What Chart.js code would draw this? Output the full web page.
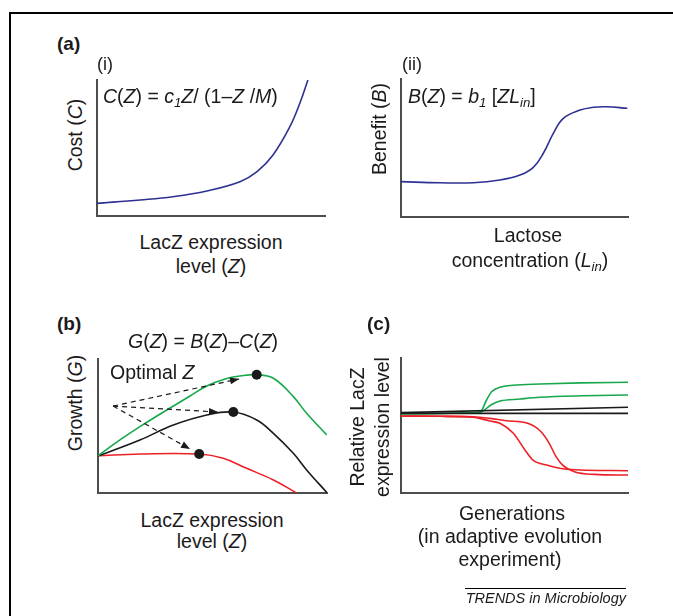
<!DOCTYPE html>
<html>
<head>
<meta charset="utf-8">
<script src="https://cdn.jsdelivr.net/npm/chart.js@4.4.1/dist/chart.umd.min.js"></script>
<style>
html, body { margin: 0; padding: 0; background: #fff; }
body { width: 673px; height: 616px; position: relative; overflow: hidden;
  font-family: "Liberation Sans", Arial, Helvetica, sans-serif; color: #1c1a1b; }
.frame { position: absolute; left: 9px; top: 12px; width: 700px; height: 700px;
  border-left: 2px solid #000; border-top: 2px solid #000; }
canvas { position: absolute; }
.t { position: absolute; white-space: nowrap; font-size: 19.5px; line-height: 19.5px; }
.c { transform: translateX(-50%); }
.rot { transform: translate(-50%, -50%) rotate(-90deg); text-align: center; }
.lab { font-weight: bold; font-size: 19px; line-height: 19px; }
.sm { font-size: 18px; line-height: 18px; }
sub { font-size: 0.68em; vertical-align: -0.3em; line-height: 0; }
.trends { font-style: italic; font-size: 14.5px; line-height: 14.5px; }
.rule { position: absolute; left: 465px; top: 588px; width: 161px; height: 1px; background: #000; }
</style>
</head>
<body>
<div class="frame"></div>

<canvas id="cost"></canvas>
<canvas id="benefit"></canvas>
<canvas id="growth"></canvas>
<canvas id="evolution"></canvas>

<!-- (a) -->
<div class="t lab" style="left:57px;top:34px">(a)</div>
<div class="t sm" style="left:97px;top:55px">(i)</div>
<div class="t" style="left:103px;top:87px"><i>C</i>(<i>Z</i>) = <i>c</i><sub><i>1</i></sub><i>Z</i>/ (1–<i>Z</i> /<i>M</i>)</div>
<div class="t rot" style="left:76px;top:135px">Cost (<i>C</i>)</div>
<div class="t c" style="left:211px;top:233px">LacZ expression</div>
<div class="t c" style="left:211px;top:257px">level (<i>Z</i>)</div>

<div class="t sm" style="left:402px;top:55px">(ii)</div>
<div class="t" style="left:408px;top:87px"><i>B</i>(<i>Z</i>) = <i>b</i><sub><i>1</i></sub> [<i>ZL</i><sub><i>in</i></sub>]</div>
<div class="t rot" style="left:380px;top:129px">Benefit (<i>B</i>)</div>
<div class="t c" style="left:528px;top:226px">Lactose</div>
<div class="t c" style="left:530px;top:251px">concentration (<i>L</i><sub><i>in</i></sub>)</div>

<!-- (b) -->
<div class="t lab" style="left:57px;top:314px">(b)</div>
<div class="t" style="left:128px;top:332px"><i>G</i>(<i>Z</i>) = <i>B</i>(<i>Z</i>)–<i>C</i>(<i>Z</i>)</div>
<div class="t rot" style="left:76px;top:403px">Growth (<i>G</i>)</div>
<div class="t" style="left:110px;top:363px">Optimal <i>Z</i></div>
<div class="t c" style="left:212px;top:511px">LacZ expression</div>
<div class="t c" style="left:212px;top:532px">level (<i>Z</i>)</div>

<!-- (c) -->
<div class="t lab" style="left:367px;top:314px">(c)</div>
<div class="t rot" style="left:370px;top:427px;line-height:25px">Relative LacZ<br>expression level</div>
<div class="t c" style="left:512px;top:504px">Generations</div>
<div class="t c" style="left:510px;top:527px">(in adaptive evolution</div>
<div class="t c" style="left:510px;top:550px">experiment)</div>

<div class="rule"></div>
<div class="t trends" style="right:47px;top:591px">TRENDS in Microbiology</div>

<script>
// (a)(i) cost vs LacZ expression
const costZ = [0, 18.9, 33.3, 48.2, 62.7, 70.2, 77.2, 84.6, 89.0, 92.5];
const costC = [9.3, 11.8, 14.2, 18.4, 25.2, 32.6, 44.9, 65.7, 83.1, 100];

// (a)(ii) benefit vs lactose concentration
const benefitL = [0, 17.2, 31.9, 43.6, 52.4, 58.3, 62.7, 67.1, 71.5, 78.9, 84.7, 90.6, 99.7];
const benefitB = [25.6, 24.8, 24.8, 26.8, 30.4, 36.0, 46.2, 60.6, 71.5, 77.5, 79.5, 79.9, 78.8];

// (b) growth curves
const greenZ = [0, 9.6, 18.3, 30.0, 40.2, 47.5, 55.5, 62.0, 69.3, 76.6, 85.3, 91.1, 99.9];
const greenG = [27.8, 39.6, 49.5, 61.9, 72.4, 79.9, 85.1, 87.3, 88.3, 85.6, 71.9, 59.5, 43.3];
const blackZ = [0, 18.3, 32.9, 47.5, 59.1, 69.3, 76.6, 85.3, 91.1, 100];
const blackG = [27.6, 39.6, 50.7, 58.2, 60.4, 54.5, 44.5, 29.6, 17.2, 0.2];
const redZ = [0, 18.3, 44.2, 54.7, 64.9, 76.6, 86.5];
const redG = [27.8, 29.1, 29.1, 25.9, 18.4, 9.7, 0.2];
const optimumZ = [69.3, 59.1, 44.2];
const optimumG = [88.3, 60.4, 29.1];
const arrowFrom = [6.6, 64.9];
const arrowToZ = [61.6, 52.4, 40.2];
const arrowToG = [85.1, 60.4, 32.8];

// (c) relative LacZ over generations
const gen1 = [0, 100];
const flatLevel = [59.0, 59.0];
const driftLevel = [59.5, 63.5];
const upAGen = [0, 17.2, 30.4, 34.8, 37.7, 39.9, 43.6, 49.5, 61.2, 78.9, 100];
const upALevel = [58.7, 58.9, 59.3, 59.8, 68.9, 75.0, 78.3, 79.8, 80.7, 81.6, 82.0];
const upBGen = [0, 34.8, 39.6, 43.6, 52.4, 61.2, 80, 100];
const upBLevel = [58.7, 59.8, 65.2, 68.1, 69.6, 70.9, 72.0, 72.6];
const downAGen = [0, 17.2, 31.7, 39.2, 43.6, 49.5, 54.6, 58.3, 64.2, 73.0, 100];
const downALevel = [57.0, 56.8, 56.1, 53.3, 51.6, 44.2, 31.9, 24.2, 20.7, 17.6, 16.5];
const downBGen = [0, 17.2, 31.7, 39.2, 46.4, 55.8, 61.7, 65.3, 68.3, 71.2, 76.4, 85.2, 100];
const downBLevel = [57.0, 56.8, 56.5, 55.3, 53.5, 51.6, 45.4, 36.8, 26.9, 20.7, 15.8, 13.8, 13.3];

const BLUE = '#2e3192', GREEN = '#17a84b', RED = '#ec2027', BLACK = '#1a1a1a';

function pts(xs, ys) {
  return xs.map((x, i) => ({ x: x, y: ys[i] }));
}

function curve(xs, ys, color, smooth) {
  const ds = { data: pts(xs, ys), borderColor: color, borderWidth: 1.6, pointRadius: 0, fill: false };
  if (smooth) ds.tension = 0.4;
  else ds.cubicInterpolationMode = 'monotone';
  return ds;
}

function arrow(i) {
  return { data: pts([arrowFrom[0], arrowToZ[i]], [arrowFrom[1], arrowToG[i]]),
    borderColor: BLACK, borderWidth: 1.2, borderDash: [5, 4], pointRadius: 0, arrow: true };
}

// arrowheads at the end of dashed datasets
const arrowHeads = {
  id: 'arrowHeads',
  afterDatasetsDraw(chart) {
    const ctx = chart.ctx;
    chart.data.datasets.forEach((ds, i) => {
      if (!ds.arrow) return;
      const p = chart.getDatasetMeta(i).data;
      const a = p[p.length - 2], b = p[p.length - 1];
      ctx.save();
      ctx.translate(b.x, b.y);
      ctx.rotate(Math.atan2(b.y - a.y, b.x - a.x));
      ctx.beginPath();
      ctx.moveTo(0, 0);
      ctx.lineTo(-9, -3.5);
      ctx.lineTo(-9, 3.5);
      ctx.closePath();
      ctx.fillStyle = ds.borderColor;
      ctx.fill();
      ctx.restore();
    });
  }
};

function axis(position) {
  return {
    type: 'linear', position: position, min: 0, max: 100,
    grid: { display: false, drawTicks: false, tickLength: 0 },
    ticks: { display: false },
    border: { display: true, color: '#4d4d4d', width: 2 }
  };
}

function panel(id, box, datasets) {
  const pad = 10;
  const cv = document.getElementById(id);
  cv.width = box.r - box.l + 2 * pad;
  cv.height = box.b - box.t + 2 * pad;
  cv.style.left = (box.l - pad) + 'px';
  cv.style.top = (box.t - pad) + 'px';
  return new Chart(cv, {
    type: 'line',
    data: { datasets: datasets },
    options: {
      responsive: false,
      animation: false,
      events: [],
      layout: { padding: pad },
      plugins: { legend: { display: false }, tooltip: { enabled: false } },
      scales: { x: axis('bottom'), y: axis('left') }
    },
    plugins: [arrowHeads]
  });
}

panel('cost', { l: 97, r: 325, t: 80, b: 216 }, [curve(costZ, costC, BLUE, true)]);

panel('benefit', { l: 401, r: 628, t: 79, b: 217 }, [curve(benefitL, benefitB, BLUE, true)]);

panel('growth', { l: 98, r: 327, t: 359, b: 493 }, [
  { data: pts(optimumZ, optimumG), showLine: false, pointRadius: 5,
    pointBackgroundColor: BLACK, pointBorderWidth: 0 },
  arrow(0), arrow(1), arrow(2),
  curve(greenZ, greenG, GREEN, true),
  curve(blackZ, blackG, BLACK, true),
  curve(redZ, redG, RED, true)
]);

panel('evolution', { l: 401, r: 628, t: 358, b: 493 }, [
  curve(gen1, flatLevel, BLACK),
  curve(gen1, driftLevel, BLACK),
  curve(upAGen, upALevel, GREEN),
  curve(upBGen, upBLevel, GREEN),
  curve(downAGen, downALevel, RED),
  curve(downBGen, downBLevel, RED)
]);
</script>
</body>
</html>
